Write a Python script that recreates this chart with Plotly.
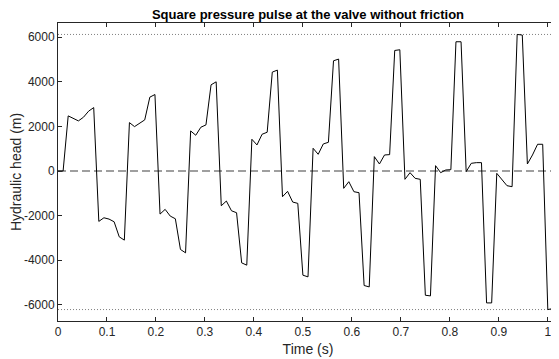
import plotly.graph_objects as go

dt = 1 / 96
head = [0, 0, 2469, 2350, 2244, 2410, 2680, 2841,
        -2258, -2096, -2154, -2275, -2949, -3097,
        2168, 1988, 2140, 2289, 3308, 3425,
        -1930, -1719, -2020, -2140, -3514, -3666,
        1795, 1602, 1961, 2065, 3860, 3995,
        -1557, -1346, -1781, -1870, -4115, -4219,
        1421, 1167, 1646, 1736, 4430, 4520,
        -1153, -911, -1391, -1451, -4668, -4743,
        1017, 748, 1212, 1286, 4937, 5013,
        -777, -479, -927, -972, -5130, -5193,
        643, 314, 718, 733, 5400, 5431,
        -373, -75, -329, -373, -5566, -5596,
        239, -75, 45, 60, 5790, 5790,
        -30, 344, 374, 374, -5910, -5910,
        -105, -404, -658, -703, 6117, 6090,
        314, 718, 1197, 1197, -6207, -6163,
        -373]
time = [k * dt for k in range(len(head))]

x_ticks = [0, 0.1, 0.2, 0.3, 0.4, 0.5, 0.6, 0.7, 0.8, 0.9, 1]
x_tick_labels = ["0", "0.1", "0.2", "0.3", "0.4", "0.5", "0.6", "0.7", "0.8", "0.9", "1"]
y_ticks = [-6000, -4000, -2000, 0, 2000, 4000, 6000]
y_tick_labels = ["-6000", "-4000", "-2000", "0", "2000", "4000", "6000"]

axis_col = "#262626"
font = "Liberation Sans, Arial, Helvetica, sans-serif"

fig = go.Figure()
t_end = time[-1]
fig.add_trace(go.Scatter(x=[0, t_end], y=[max(head), max(head)], mode="lines",
                         line=dict(color="#808080", width=1, dash="1px,2px"), hoverinfo="skip"))
fig.add_trace(go.Scatter(x=[0, t_end], y=[min(head), min(head)], mode="lines",
                         line=dict(color="#808080", width=1, dash="1px,2px"), hoverinfo="skip"))
fig.add_trace(go.Scatter(x=[0, t_end], y=[0, 0], mode="lines",
                         line=dict(color="#808080", width=1.3, dash="8px,4px"), hoverinfo="skip"))
fig.add_trace(go.Scatter(x=time, y=head, mode="lines",
                         line=dict(color="black", width=1)))

# the page body keeps an 8px margin, so the figure is 8px smaller than the window
fig.update_layout(
    width=551, height=351,
    margin=dict(l=50, r=1, t=15, b=38, autoexpand=False),
    paper_bgcolor="white", plot_bgcolor="white",
    showlegend=False,
    font=dict(family=font, size=12, color=axis_col),
    title=dict(text="<b>Square pressure pulse at the valve without friction</b>",
               x=0.5, xref="paper", xanchor="center",
               y=1, yref="container", yanchor="top", pad=dict(t=2),
               font=dict(size=13, color="black", family=font)),
)
fig.update_xaxes(range=[0, t_end], tickvals=x_ticks, ticktext=x_tick_labels,
                 showgrid=False, zeroline=False, showline=True, linecolor=axis_col,
                 linewidth=1, mirror="ticks", ticks="inside", ticklen=4,
                 tickcolor=axis_col, automargin=False,
                 title=dict(text="Time (s)", standoff=5))
fig.update_yaxes(range=[-6720, 6630], tickvals=y_ticks, ticktext=y_tick_labels,
                 showgrid=False, zeroline=False, showline=True, linecolor=axis_col,
                 linewidth=1, mirror="ticks", ticks="inside", ticklen=4,
                 tickcolor=axis_col, automargin=False,
                 title=dict(text="Hydraulic head (m)", standoff=1))

fig.write_html("out.html")
